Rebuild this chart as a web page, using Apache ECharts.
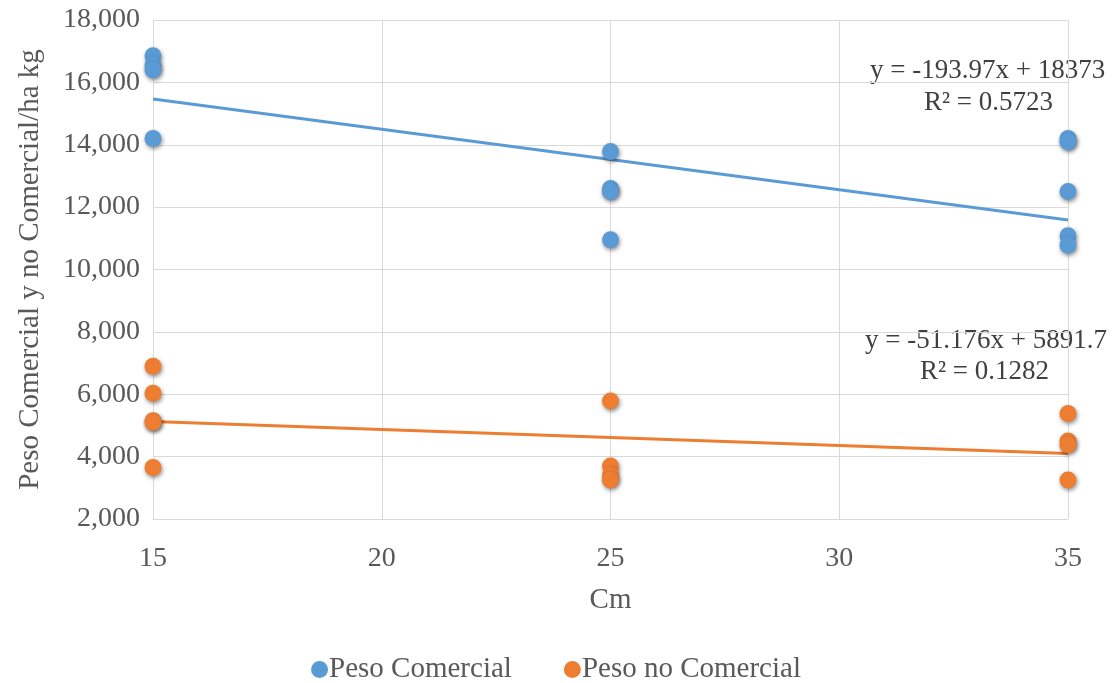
<!DOCTYPE html>
<html>
<head>
<meta charset="utf-8">
<script src="https://cdn.jsdelivr.net/npm/echarts@6/dist/echarts.min.js"></script>
<style>html,body{margin:0;padding:0;background:#fff}#c{width:1112px;height:683px}</style>
</head>
<body>
<div id="c"></div>
<script>
const xTicks = [15, 20, 25, 30, 35];
const comercialX = [15, 15, 15, 15, 25, 25, 25, 25, 35, 35, 35, 35, 35];
const comercialY = [16850, 16550, 16400, 14200, 13780, 12600, 12500, 10950, 14200, 14100, 12500, 11080, 10780];
const noComercialX = [15, 15, 15, 15, 15, 25, 25, 25, 25, 35, 35, 35, 35];
const noComercialY = [6900, 6030, 5150, 5100, 3650, 5780, 3700, 3400, 3250, 5380, 4500, 4380, 3250];
const trendSlope = [-193.97, -51.176];
const trendIntercept = [18373, 5891.7];
const trendLabels = [
  ['y = -193.97x + 18373', 'R² = 0.5723'],
  ['y = -51.176x + 5891.7', 'R² = 0.1282']
];
const seriesNames = ['Peso Comercial', 'Peso no Comercial'];
const colors = ['#5B9BD5', '#ED7D31'];

const font = 'Liberation Serif, Times New Roman, serif';
const toPairs = (xs, ys) => xs.map((x, i) => [x, ys[i]]);
const trendLine = k => [xTicks[0], xTicks[xTicks.length - 1]].map(x => [x, trendSlope[k] * x + trendIntercept[k]]);

const chart = echarts.init(document.getElementById('c'));
const markerStyle = c => ({ color: c, opacity: 1, shadowBlur: 4, shadowColor: 'rgba(0,0,0,0.45)', shadowOffsetX: 1, shadowOffsetY: 2 });

chart.setOption({
  animation: false,
  color: colors,
  textStyle: { fontFamily: font },
  grid: { left: 153, right: 44, top: 20, bottom: 164 },
  xAxis: {
    type: 'value', min: 15, max: 35, interval: 5,
    name: 'Cm', nameLocation: 'middle', nameGap: 67,
    nameTextStyle: { fontSize: 29, color: '#595959', fontFamily: font },
    axisLine: { show: true, lineStyle: { color: '#d9d9d9', width: 1 } },
    axisTick: { show: false },
    axisLabel: { fontSize: 28, color: '#595959', fontFamily: font, margin: 26 },
    splitLine: { show: true, lineStyle: { color: '#d9d9d9', width: 1 } }
  },
  yAxis: {
    type: 'value', min: 2000, max: 18000, interval: 2000,
    name: 'Peso Comercial y no Comercial/ha kg', nameLocation: 'middle', nameGap: 108,
    nameTextStyle: { fontSize: 29, color: '#595959', fontFamily: font },
    axisLine: { show: true, lineStyle: { color: '#d9d9d9', width: 1 } },
    axisTick: { show: false },
    axisLabel: { fontSize: 28, color: '#595959', fontFamily: font, margin: 13,
      formatter: v => v.toLocaleString('en-US') },
    splitLine: { show: true, lineStyle: { color: '#d9d9d9', width: 1 } }
  },
  legend: {
    bottom: -6, left: 'center', itemGap: 52, icon: 'circle', itemWidth: 17, itemHeight: 17,
    data: seriesNames,
    textStyle: { fontSize: 29, color: '#595959', fontFamily: font, padding: [0, 0, 0, -4] }
  },
  series: [
    { name: seriesNames[0], type: 'scatter', symbolSize: 17, data: toPairs(comercialX, comercialY), itemStyle: markerStyle(colors[0]), z: 3 },
    { name: seriesNames[1], type: 'scatter', symbolSize: 17, data: toPairs(noComercialX, noComercialY), itemStyle: markerStyle(colors[1]), z: 3 },
    { name: 'trend0', type: 'line', data: trendLine(0), symbol: 'none', lineStyle: { color: colors[0], width: 3 }, z: 2 },
    { name: 'trend1', type: 'line', data: trendLine(1), symbol: 'none', lineStyle: { color: colors[1], width: 3 }, z: 2 }
  ],
  graphic: [
    { type: 'text', left: 870, top: 57, style: { text: trendLabels[0][0], font: '27px ' + font, fill: '#404040' } },
    { type: 'text', left: 924, top: 89, style: { text: trendLabels[0][1], font: '27px ' + font, fill: '#404040' } },
    { type: 'text', left: 865, top: 327, style: { text: trendLabels[1][0], font: '27px ' + font, fill: '#404040' } },
    { type: 'text', left: 920, top: 358, style: { text: trendLabels[1][1], font: '27px ' + font, fill: '#404040' } }
  ]
});
</script>
</body>
</html>
